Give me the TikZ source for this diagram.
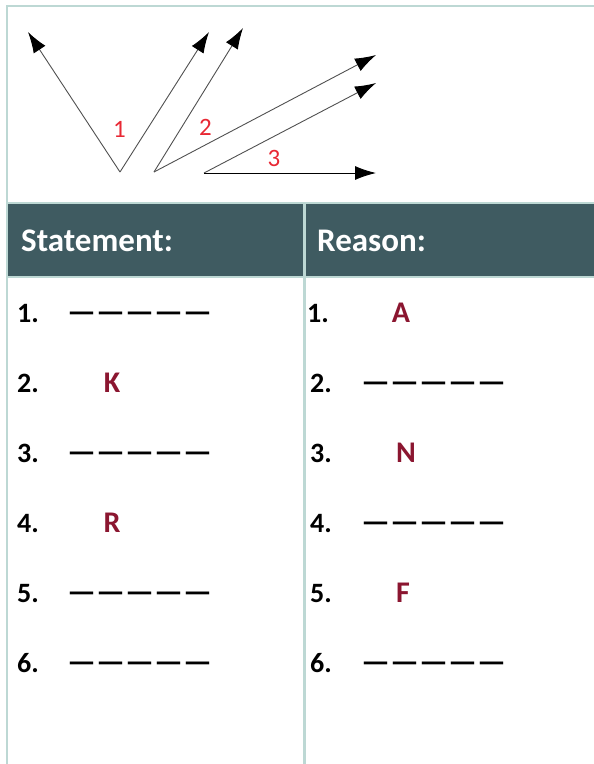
\documentclass[tikz,border=0pt]{standalone}
\usepackage{xcolor}
\usepackage{fontspec}
\setmainfont{Carlito}
\usepackage{tikz}
\usetikzlibrary{arrows.meta, positioning, calc}
\definecolor{gridteal}{RGB}{189, 216, 212}
\definecolor{headteal}{RGB}{63, 91, 97}
\definecolor{answerred}{RGB}{139, 22, 48}
\definecolor{anglered}{RGB}{232, 40, 52}
\definecolor{raygray}{RGB}{80, 80, 80}

\tikzset{
    ray/.style={raygray, line width=0.9pt, -{Latex[length=21pt, width=14pt, color=black]}},
    anglelabel/.style={anglered, inner sep=0pt, font=\fontsize{25}{25}\selectfont},
    headtext/.style={white, anchor=base west, inner sep=0pt, font=\bfseries\fontsize{33}{33}\selectfont},
    rownum/.style={anchor=base west, inner sep=0pt, font=\bfseries\fontsize{28}{28}\selectfont},
    blank/.style={anchor=base west, inner sep=0pt, font=\bfseries\fontsize{32}{32}\selectfont},
    answer/.style={answerred, anchor=base, inner sep=0pt, font=\bfseries\fontsize{30}{30}\selectfont}
}

\begin{document}
\begin{tikzpicture}[x=1pt, y=-1pt]
    \useasboundingbox (0,0) rectangle (594,764);

    % Frame and header band
    \fill[headteal] (8,204) rectangle (594,276);
    \draw[gridteal, line width=2.5pt] (7,764) -- (7,6) -- (594,6);
    \draw[gridteal, line width=2pt] (7,203) -- (594,203);
    \draw[gridteal, line width=2pt] (7,277) -- (594,277);
    \draw[gridteal, line width=2.5pt] (304.5,203) -- (304.5,764);

    % Rays
    \coordinate (v1) at (120,172);
    \coordinate (v2) at (154,172);
    \coordinate (v3) at (204,173);
    \coordinate (t1a) at (28,32);
    \coordinate (t1b) at (209,32);
    \coordinate (t2a) at (243,28);
    \coordinate (t2b) at (376,55);
    \coordinate (t3a) at (376,83);
    \coordinate (t3b) at (376,173);
    \draw[ray] (v1) -- (t1a);
    \draw[ray] (v1) -- (t1b);
    \draw[ray] (v2) -- (t2a);
    \draw[ray] (v2) -- (t2b);
    \draw[ray] (v3) -- (t3a);
    \draw[ray, black] (v3) -- (t3b);

    % Angle labels
    \node[anglelabel] (ang1) at (119.5,129) {1};
    \node[anglelabel] (ang2) at (205.5,127) {2};
    \node[anglelabel] (ang3) at (274,158) {3};

    % Header
    \node[headtext] (stmt) at (21,251) {Statement:};
    \node[headtext] (rsn) at (317,251) {Reason:};

    % Row numbers
    \foreach \i in {1,...,6} {
        \node[rownum] (sn\i) at (17,252+70*\i) {\i.};
        \node[rownum] (rn\i) at (307+\ifnum\i>1 3\else 0\fi,252+70*\i) {\i.};
    }
    % Blanks
    \foreach \i in {1,3,5,6} {
        \node[blank] (sb\i) at (67,252+70*\i) {—————};
    }
    \foreach \i in {2,4,6} {
        \node[blank] (rb\i) at (361,252+70*\i) {—————};
    }
    % Filled answers
    \node[answer] (ansK) at (112,392) {K};
    \node[answer] (ansR) at (112,532) {R};
    \node[answer] (ansA) at (401,322) {A};
    \node[answer] (ansN) at (406,462) {N};
    \node[answer] (ansF) at (403,602) {F};
\end{tikzpicture}
\end{document}
